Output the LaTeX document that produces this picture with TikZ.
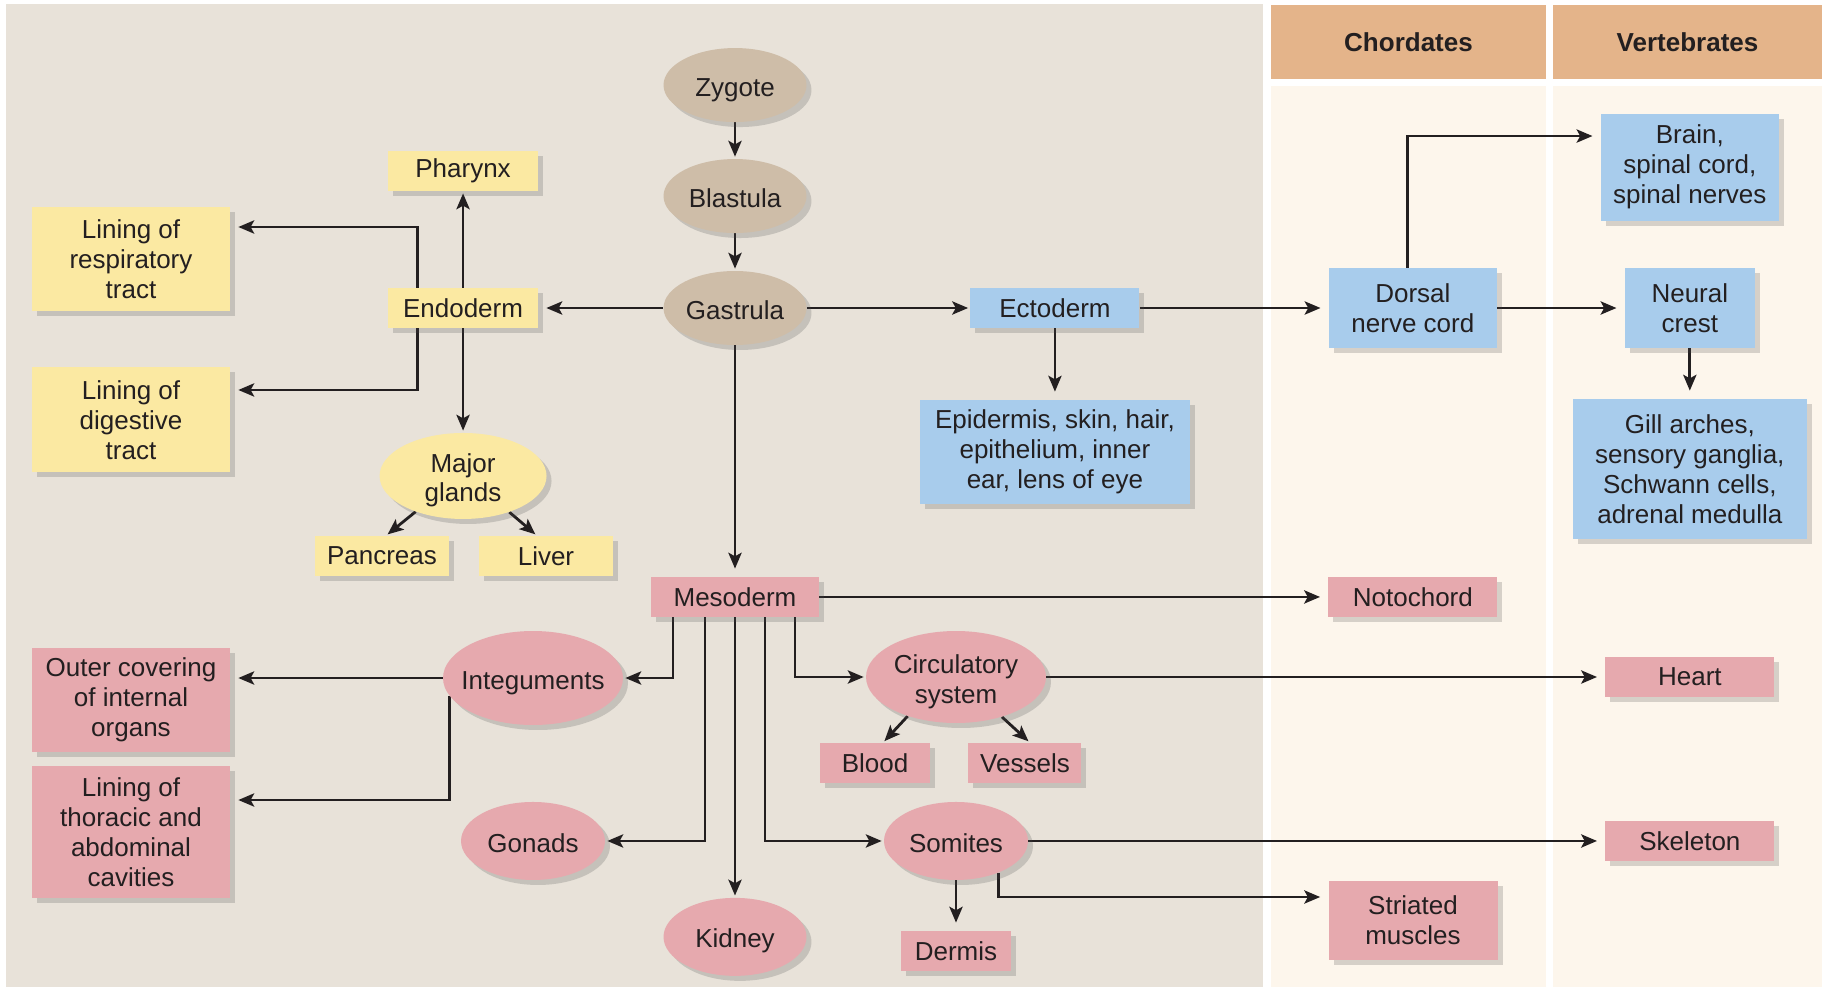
\documentclass[tikz,border=0pt]{standalone}
\usepackage{fontspec}
\setmainfont{Liberation Sans}
\usetikzlibrary{arrows.meta,positioning,shapes.geometric,shadows,calc}

\definecolor{panelBeige}{HTML}{E8E2D9}
\definecolor{headOrange}{HTML}{E4B48A}
\definecolor{colCream}{HTML}{FDF6EC}
\definecolor{tanFill}{HTML}{CEBDA8}
\definecolor{endoYellow}{HTML}{FBE9A2}
\definecolor{ectoBlue}{HTML}{A8CCEC}
\definecolor{mesoPink}{HTML}{E6A9AE}
\definecolor{inkDark}{HTML}{231F20}

\pgfdeclarelayer{panels}
\pgfdeclarelayer{lines}
\pgfsetlayers{panels,lines,main}

\newcommand{\ovalLabel}[1]{\makebox[0pt]{\raisebox{-6.5pt}[0pt][0pt]{\begin{tabular}{@{}c@{}}#1\end{tabular}}}}

\begin{document}
\begin{tikzpicture}[x=0.02cm, y=-0.02cm, on grid, text=inkDark, font={\fontsize{14.8}{17}\selectfont}]
	\tikzstyle{tissue} = [rectangle, inner sep=0pt, align=center, drop shadow={shadow xshift=0.1cm, shadow yshift=-0.1cm, opacity=0.22, fill=black!70}]
	\tikzstyle{oval} = [ellipse, inner sep=0pt, drop shadow={shadow xshift=0.1cm, shadow yshift=-0.1cm, opacity=0.22, fill=black!70}]
	\tikzstyle{stage} = [oval, fill=tanFill, minimum width=2.86cm, minimum height=1.48cm]
	\tikzstyle{endoBox} = [tissue, fill=endoYellow]
	\tikzstyle{ectoBox} = [tissue, fill=ectoBlue]
	\tikzstyle{mesoBox} = [tissue, fill=mesoPink]
	\tikzstyle{endoOval} = [oval, fill=endoYellow]
	\tikzstyle{mesoOval} = [oval, fill=mesoPink]
	\tikzstyle{colHeader} = [rectangle, inner sep=0pt, fill=headOrange, font={\fontsize{14.8}{17}\selectfont\bfseries}]
	\tikzstyle{stateEdge} = [draw=inkDark, line width=1.6pt, -{Stealth[length=9pt,width=7.5pt,inset=2pt]}, shorten >=0.16cm]
	\tikzstyle{tightEdge} = [stateEdge, shorten >=0.04cm]

	\useasboundingbox (0,0) rectangle (1822,987);

	% stages
	\node[stage] (gas) at (735,308) {\ovalLabel{Gastrula}};
	\node[stage] (bla) [above=2.24cm of gas] {\ovalLabel{Blastula}};
	\node[stage] (zyg) [above=2.22cm of bla] {\ovalLabel{Zygote}};

	% endoderm
	\node[endoBox, minimum width=3cm, minimum height=0.8cm] (endo) [left=5.44cm of gas] {Endoderm};
	\node[endoBox, minimum width=3cm, minimum height=0.8cm] (phar) [above=2.74cm of endo] {Pharynx};
	\node[endoOval, minimum width=3.34cm, minimum height=1.72cm] (glands) [below=3.36cm of endo] {\ovalLabel{Major\\glands}};
	\node[endoBox, minimum width=2.68cm, minimum height=0.8cm] (panc) at (382,556) {Pancreas};
	\node[endoBox, minimum width=2.68cm, minimum height=0.8cm] (liver) [right=3.28cm of panc] {Liver};
	\node[endoBox, minimum width=3.96cm, minimum height=2.1cm] (resp) at (131,259) {Lining of\\respiratory\\tract};
	\node[endoBox, minimum width=3.96cm, minimum height=2.1cm] (dige) [below=3.22cm of resp] {Lining of\\digestive\\tract};

	% ectoderm
	\node[ectoBox, minimum width=3.38cm, minimum height=0.8cm] (ecto) [right=6.4cm of gas] {Ectoderm};
	\node[ectoBox, minimum width=5.4cm, minimum height=2.08cm] (epid) [below=2.88cm of ecto] {Epidermis, skin, hair,\\epithelium, inner\\ear, lens of eye};
	\node[ectoBox, minimum width=3.36cm, minimum height=1.6cm] (dnc) [right=7.16cm of ecto] {Dorsal\\nerve cord};
	\node[ectoBox, minimum width=2.6cm, minimum height=1.6cm] (crest) [right=5.54cm of dnc] {Neural\\crest};
	\node[ectoBox, minimum width=3.56cm, minimum height=2.14cm] (brain) [above=2.82cm of crest] {Brain,\\spinal cord,\\spinal nerves};
	\node[ectoBox, minimum width=4.68cm, minimum height=2.8cm] (gill) [below=3.22cm of crest] {Gill arches,\\sensory ganglia,\\Schwann cells,\\adrenal medulla};

	% mesoderm
	\node[mesoBox, minimum width=3.36cm, minimum height=0.8cm] (meso) [below=5.78cm of gas] {Mesoderm};
	\node[mesoBox, minimum width=3.38cm, minimum height=0.8cm] (noto) [right=13.56cm of meso] {Notochord};
	\node[mesoOval, minimum width=3.6cm, minimum height=1.88cm] (integ) at (533,678) {\ovalLabel{Integuments}};
	\node[mesoBox, minimum width=3.96cm, minimum height=2.1cm] (outer) at (131,700) {Outer covering\\of internal\\organs};
	\node[mesoBox, minimum width=3.96cm, minimum height=2.64cm] (thor) at (131,832) {Lining of\\thoracic and\\abdominal\\cavities};
	\node[mesoOval, minimum width=2.88cm, minimum height=1.56cm] (gonads) [below=3.26cm of integ] {\ovalLabel{Gonads}};
	\node[mesoOval, minimum width=2.86cm, minimum height=1.56cm] (kidney) [below=6.8cm of meso] {\ovalLabel{Kidney}};
	\node[mesoOval, minimum width=3.6cm, minimum height=1.84cm] (circ) at (956,677) {\ovalLabel{Circulatory\\system}};
	\node[mesoBox, minimum width=2.2cm, minimum height=0.8cm] (blood) at (875,763) {Blood};
	\node[mesoBox, minimum width=2.26cm, minimum height=0.8cm] (vessels) [right=3cm of blood] {Vessels};
	\node[mesoOval, minimum width=2.88cm, minimum height=1.56cm] (somites) [below=3.28cm of circ] {\ovalLabel{Somites}};
	\node[mesoBox, minimum width=2.2cm, minimum height=0.8cm] (dermis) [below=2.2cm of somites] {Dermis};
	\node[mesoBox, minimum width=3.38cm, minimum height=0.8cm] (heart) [right=14.68cm of circ] {Heart};
	\node[mesoBox, minimum width=3.38cm, minimum height=0.8cm] (skel) [below=3.28cm of heart] {Skeleton};
	\node[mesoBox, minimum width=3.38cm, minimum height=1.58cm] (stri) at (1413,920) {Striated\\muscles};

	% column headers
	\node[colHeader, minimum width=5.5cm, minimum height=1.48cm] (chordHead) at (1408.5,42) {Chordates};
	\node[colHeader, minimum width=5.38cm, minimum height=1.48cm] (vertHead) at (1687.5,42) {Vertebrates};

	\begin{pgfonlayer}{panels}
		\fill[white] (0,0) rectangle (1822,987);
		\fill[panelBeige] (6,4) rectangle (1263,987);
		\fill[colCream] (1271,86) rectangle (1546,987);
		\fill[colCream] (1553,86) rectangle (1822,987);
	\end{pgfonlayer}

	\begin{pgfonlayer}{lines}
		\coordinate (endoFork) at ($(endo.west)+(30,0)$);

		\path
		(zyg) edge[tightEdge] (bla)
		(bla) edge[tightEdge] (gas)
		(gas) edge[tightEdge] (ecto)
			edge[stateEdge] (endo)
			edge[stateEdge] (meso)
		(endo) edge[tightEdge] (phar)
			edge[tightEdge] (glands)
		(ecto) edge[stateEdge] (dnc)
			edge[stateEdge] (epid)
		(dnc) edge[stateEdge] (crest)
		(crest) edge[stateEdge] (gill)
		(meso) edge[tightEdge] (kidney)
			edge[stateEdge] (noto)
		(circ) edge[stateEdge] (heart)
		(somites) edge[stateEdge] (skel)
			edge[stateEdge] (dermis)
		(glands.217) edge[tightEdge] ($(panc.north)+(4,0)$)
		(glands.322) edge[tightEdge] ($(liver.north)+(-9,0)$)
		(circ.219) edge[tightEdge] ($(blood.north)+(8,0)$)
		(circ.319) edge[tightEdge] ($(vessels.north)+(5,0)$);

		\draw[stateEdge] (endoFork) |- ($(resp.east)+(0,-32)$);
		\draw[stateEdge] (endoFork) |- ($(dige.east)+(0,-30)$);
		\draw[stateEdge] ($(dnc.north)+(-5,0)$) |- ($(brain.west)+(0,-31)$);
		\draw[tightEdge] ($(meso.south)+(-62,0)$) |- (integ);
		\draw[tightEdge] ($(meso.south)+(-30,0)$) |- (gonads);
		\draw[tightEdge] ($(meso.south)+(30,0)$) |- (somites);
		\draw[tightEdge] ($(meso.south)+(60,0)$) |- (circ);
		\draw[stateEdge] (integ.west) -- (integ.west -| outer.east);
		\draw[stateEdge] (integ.192) |- ($(thor.east)+(0,-32)$);
		\draw[stateEdge] (somites.323) |- ($(stri.west)+(0,-23)$);
	\end{pgfonlayer}
\end{tikzpicture}
\end{document}
